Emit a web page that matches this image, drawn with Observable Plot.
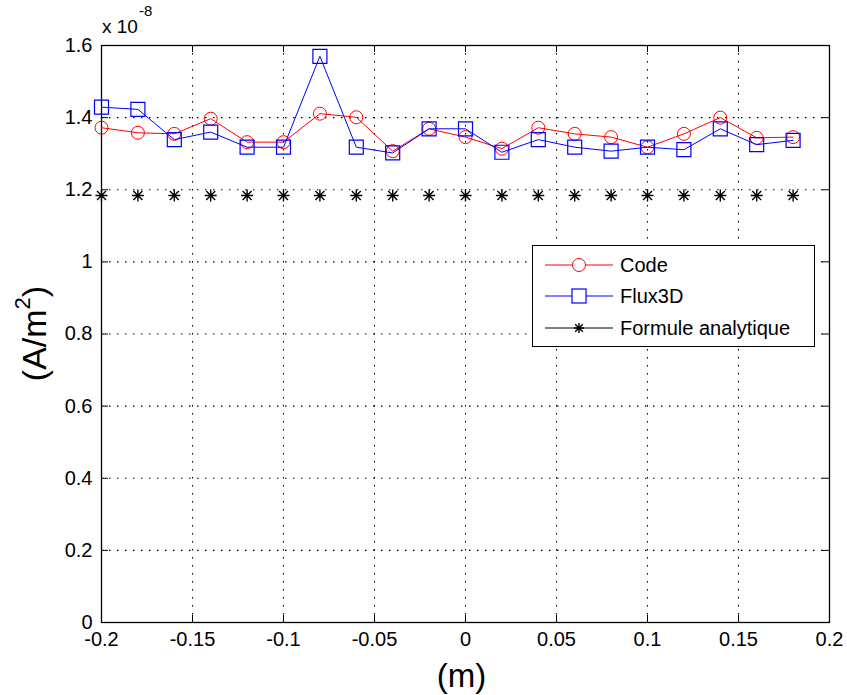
<!DOCTYPE html>
<html><head><meta charset="utf-8">
<script src="https://cdn.jsdelivr.net/npm/d3@7"></script>
<script src="https://cdn.jsdelivr.net/npm/@observablehq/plot@0.6"></script>
<style>
body{margin:0;background:#fff;}
#wrap{position:relative;width:847px;height:695px;font-family:"Liberation Sans",Arial,sans-serif;}
#legend{position:absolute;left:532px;top:245px;width:283px;height:102px;border:1.5px solid #000;background:#fff;box-sizing:border-box;}
#legend svg{position:absolute;left:0;top:0;}
#mult{position:absolute;left:0;top:0;}
</style></head><body><div id="wrap"></div>
<script>
// x positions (m)
const xPos = [-0.2, -0.18, -0.16, -0.14, -0.12, -0.1, -0.08, -0.06, -0.04, -0.02, 0, 0.02, 0.04, 0.06, 0.08, 0.1, 0.12, 0.14, 0.16, 0.18];
// values in units of 1e-8 A/m^2
const code    = [1.372, 1.358, 1.355, 1.397, 1.332, 1.332, 1.411, 1.401, 1.307, 1.369, 1.346, 1.314, 1.372, 1.355, 1.346, 1.318, 1.355, 1.400, 1.344, 1.346];
const flux3d  = [1.429, 1.423, 1.339, 1.360, 1.318, 1.318, 1.570, 1.318, 1.302, 1.369, 1.369, 1.304, 1.339, 1.318, 1.307, 1.318, 1.311, 1.369, 1.325, 1.337];
const formule = [1.184, 1.184, 1.184, 1.184, 1.184, 1.184, 1.184, 1.184, 1.184, 1.184, 1.184, 1.184, 1.184, 1.184, 1.184, 1.184, 1.184, 1.184, 1.184, 1.184];
const seriesNames = ["Code", "Flux3D", "Formule analytique"];
const xTicks = [-0.2, -0.15, -0.1, -0.05, 0, 0.05, 0.1, 0.15, 0.2];
const yTicks = [0, 0.2, 0.4, 0.6, 0.8, 1, 1.2, 1.4, 1.6];

const W = 847, H = 695, mL = 101, mR = 18, mT = 45, mB = 73;
const pw = W - mL - mR, ph = H - mT - mB, tk = 7;
const font = "'Liberation Sans', Arial, sans-serif";

const codeData = xPos.map((x, i) => ({x, y: code[i]}));
const fluxData = xPos.map((x, i) => ({x, y: flux3d[i]}));
const formData = xPos.map((x, i) => ({x, y: formule[i]}));

const star8 = {
  draw(ctx, size) {
    const r = Math.sqrt(size / Math.PI), d = r * 0.75;
    ctx.moveTo(-r, 0); ctx.lineTo(r, 0);
    ctx.moveTo(0, -r); ctx.lineTo(0, r);
    ctx.moveTo(-d, -d); ctx.lineTo(d, d);
    ctx.moveTo(-d, d); ctx.lineTo(d, -d);
  }
};

const grid = {stroke: "#000", strokeOpacity: 1, strokeWidth: 1.1, strokeDasharray: "1.5,6.5"};

const chart = Plot.plot({
  width: W, height: H,
  marginLeft: mL, marginRight: mR, marginTop: mT, marginBottom: mB,
  style: {fontFamily: font, background: "#fff", color: "#000"},
  x: {domain: [-0.2, 0.2]},
  y: {domain: [0, 1.6]},
  marks: [
    Plot.gridX(xTicks.slice(1, -1), grid),
    Plot.gridY(yTicks.slice(1, -1), grid),
    Plot.tickX(xTicks, {x: d => d, stroke: "#000", insetTop: ph - tk}),
    Plot.tickX(xTicks, {x: d => d, stroke: "#000", insetBottom: ph - tk}),
    Plot.tickY(yTicks, {y: d => d, stroke: "#000", insetRight: pw - tk}),
    Plot.tickY(yTicks, {y: d => d, stroke: "#000", insetLeft: pw - tk}),
    Plot.frame({stroke: "#000", strokeWidth: 1.3}),
    Plot.axisX(xTicks, {tickSize: 0, tickPadding: 9, tickFormat: d => String(d), fontSize: 20, label: null}),
    Plot.axisY(yTicks, {tickSize: 0, tickPadding: 9, tickFormat: d => String(d), fontSize: 20, label: null}),
    Plot.line(codeData, {x: "x", y: "y", stroke: "#ff0000", strokeWidth: 1}),
    Plot.dot(codeData, {x: "x", y: "y", stroke: "#ff0000", fill: "none", r: 6.5, strokeWidth: 1}),
    Plot.line(fluxData, {x: "x", y: "y", stroke: "#0000ff", strokeWidth: 1}),
    Plot.dot(fluxData, {x: "x", y: "y", symbol: "square", stroke: "#0000ff", fill: "none", r: 7.9, strokeWidth: 1.2}),
    Plot.dot(formData, {x: "x", y: "y", symbol: star8, stroke: "#000", r: 6, strokeWidth: 1.4}),
    Plot.text(["(m)"], {frameAnchor: "bottom", dx: -4, dy: 64, lineAnchor: "bottom", fontSize: 33, fill: "#000"})
  ]
});

const wrap = document.getElementById("wrap");
wrap.appendChild(chart);

// y-axis label with superscript
const svgC = d3.select(chart);
const yl = svgC.append("text")
  .attr("transform", `translate(46,${mT + ph / 2}) rotate(-90)`)
  .attr("text-anchor", "middle").attr("font-family", font).attr("font-size", 34).attr("fill", "#000");
yl.append("tspan").text("(A/m");
yl.append("tspan").attr("font-size", 22).attr("dy", -16).text("2");
yl.append("tspan").attr("dy", 16).text(")");

// axis multiplier in its own overlay svg
const ms = d3.select(wrap).append("svg").attr("id", "mult").attr("width", 220).attr("height", 44);
const mult = ms.append("text")
  .attr("x", mL + 1).attr("y", 33).attr("text-anchor", "start")
  .attr("font-family", font).attr("font-size", 19).attr("fill", "#000");
mult.append("tspan").text("x 10");
mult.append("tspan").attr("font-size", 15).attr("dy", -17).attr("dx", 1).text("-8");

// legend
const leg = document.createElement("div");
leg.id = "legend";
wrap.appendChild(leg);
const colors = ["#ff0000", "#0000ff", "#000"];
const rows = [19, 50, 82];
const svg = d3.select(leg).append("svg").attr("width", 283).attr("height", 102);
seriesNames.forEach((name, i) => {
  const y = rows[i];
  svg.append("line").attr("x1", 12).attr("x2", 80).attr("y1", y).attr("y2", y)
    .attr("stroke", colors[i]).attr("stroke-width", 1);
  if (i === 0) svg.append("circle").attr("cx", 46).attr("cy", y).attr("r", 6.5).attr("fill", "#fff").attr("stroke", colors[i]);
  if (i === 1) svg.append("rect").attr("x", 39).attr("y", y - 7).attr("width", 14).attr("height", 14).attr("fill", "#fff").attr("stroke", colors[i]).attr("stroke-width", 1.2);
  if (i === 2) {
    const r = 5, d = 3.8;
    svg.append("path").attr("d", `M${46 - r},${y}H${46 + r}M46,${y - r}V${y + r}M${46 - d},${y - d}L${46 + d},${y + d}M${46 - d},${y + d}L${46 + d},${y - d}`)
      .attr("stroke", "#000").attr("stroke-width", 1.4);
  }
  svg.append("text").attr("x", 87).attr("y", y).attr("dy", "0.35em")
    .attr("font-size", 20).attr("font-family", font).attr("fill", "#000").text(name);
});
</script></body></html>
